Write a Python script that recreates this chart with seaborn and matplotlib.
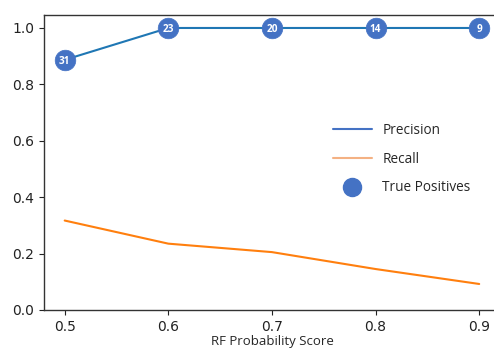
import numpy as np
import pandas as pd
import seaborn as sns
import matplotlib.pyplot as plt
from matplotlib.lines import Line2D

# DATA
scores = [0.5, 0.6, 0.7, 0.8, 0.9]
precision = [0.887, 1.0, 1.0, 1.0, 1.0]
recall = [0.317, 0.235, 0.205, 0.145, 0.092]
true_pos = [31, 23, 20, 14, 9]

df = pd.DataFrame({'score': scores, 'precision': precision, 'recall': recall, 'tp': true_pos})

sns.set_style('ticks')
plt.rcParams['font.family'] = ['DejaVu Sans']

fig = plt.figure(figsize=(4.94, 3.49), dpi=100)
ax = fig.add_axes([0.089, 0.112, 0.923, 0.845])

sns.lineplot(data=df, x='score', y='precision', color='#1f77b4', linewidth=1.5, ax=ax)
sns.lineplot(data=df, x='score', y='recall', color='#ff7f0e', linewidth=1.5, ax=ax)
sns.scatterplot(data=df, x='score', y='precision', color='#4472C4', s=220, edgecolor='#4472C4',
                linewidth=0.5, zorder=5, ax=ax)
for x, y, t in zip(df['score'], df['precision'], df['tp']):
    ax.text(x, y, str(t), color='white', fontsize=7.2, fontweight='bold', ha='center',
            va='center_baseline', zorder=6, family='Open Sans')

ax.set_xlim(0.48, 0.92)
ax.set_ylim(0, 1.046)
ax.set_xticks(scores)
ax.set_xticklabels(['0.5', '0.6', '0.7', '0.8', '0.9'])
ax.set_yticks([0.0, 0.2, 0.4, 0.6, 0.8, 1.0])
ax.tick_params(labelsize=10, colors='#222222')
ax.set_xlabel('RF Probability Score', family='Open Sans', fontsize=9.5, labelpad=1)
ax.set_ylabel('')
for s in ax.spines.values():
    s.set_color('#333333')
    s.set_linewidth(1.0)

handles = [Line2D([], [], color='#4472C4', lw=1.5),
           Line2D([], [], color='#F4B183', lw=1.5),
           Line2D([], [], color='#4472C4', marker='o', markersize=13, lw=0)]
ax.legend(handles, ['Precision', 'Recall', 'True Positives'], frameon=False,
          loc='upper left', bbox_to_anchor=(0.608, 0.675), prop={'family': 'Open Sans', 'size': 9.8},
          handlelength=2.8, handletextpad=0.8, labelspacing=1.0)

fig.savefig('out.png', dpi=100)
